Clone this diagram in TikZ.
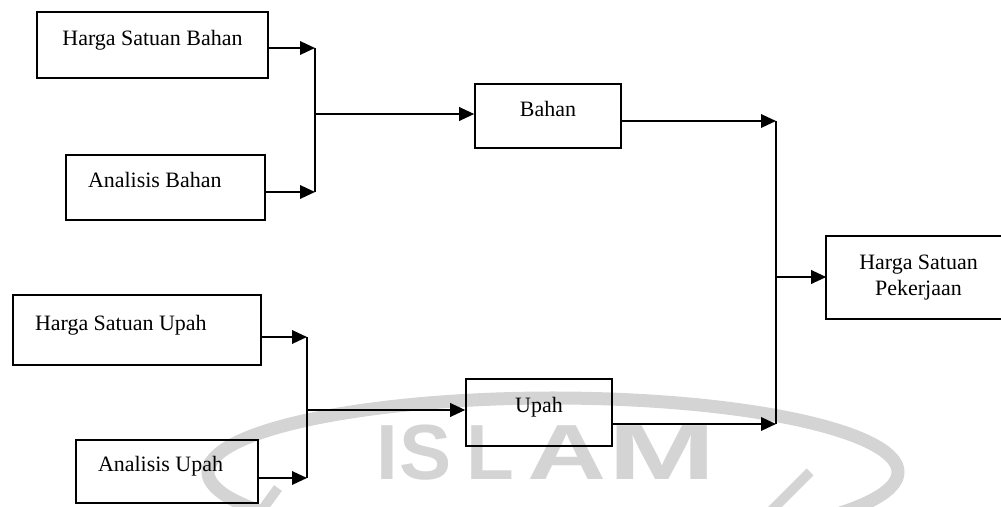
\documentclass[tikz,border=0pt]{standalone}
\usepackage{fontspec}
\usepackage{graphicx}
\setmainfont{Liberation Serif}
\newfontfamily\wmfont{Liberation Sans}
\usetikzlibrary{arrows.meta}
\tikzstyle{box}=[draw, line width=0.9pt, inner sep=0pt, text height=8pt, text depth=8pt, font=\fontsize{12.5}{15}\selectfont]
\tikzstyle{lbox}=[box, align=flush left, inner xsep=0.44cm]
\tikzstyle{wm}=[inner sep=0pt, text=black!17, font=\wmfont\bfseries\fontsize{44.5}{44.5}\selectfont]
\tikzset{arr/.style={line width=1.1pt, -{Triangle[length=0.3cm,width=0.27cm]}}}
\tikzset{bar/.style={line width=1.1pt}}

\begin{document}
\begin{tikzpicture}[x=0.02cm, y=-0.02cm]
    \useasboundingbox (0,0) rectangle (1001,507);

    \draw[black!17, line width=7.4pt] (553,472) ++(145:345 and 74) arc[start angle=145, end angle=395, x radius=345, y radius=74];
    \draw[black!17, line width=5.5pt] (770,512) -- (810,472);
    \draw[black!17, line width=5.5pt] (262,510) -- (278,488);
    \foreach \c/\x/\s in {I/387/1, S/426/1, L/490/1, A/567/1.4, M/662/1.65}
      \node[wm] (wm\c) at (\x,453) {\scalebox{\s}[1]{\c}};

    \node[box, minimum width=4.62cm, minimum height=1.32cm] (hsb) at (152.5,45) {Harga Satuan Bahan};
    \node[lbox, text width=3.1cm, minimum height=1.30cm] (ab) at (165.5,187.5) {Analisis Bahan};
    \node[box, minimum width=2.92cm, minimum height=1.28cm] (bahan) at (548,116) {Bahan};
    \node[lbox, text width=4.08cm, minimum height=1.40cm] (hsu) at (137,330) {Harga Satuan Upah};
    \node[lbox, text width=2.76cm, minimum height=1.26cm] (au) at (167,471.5) {Analisis Upah};
    \node[box, minimum width=2.92cm, minimum height=1.34cm] (upah) at (539,412.5) {Upah};
    \node[box, draw=none, text height={}, text depth={}, align=center, minimum width=3.66cm, minimum height=1.62cm] (hsp) at (918.5,277.5) {Harga Satuan\\Pekerjaan};
    \draw[line width=0.9pt] (hsp.north east) -| (hsp.south west) -- (hsp.south east);

    \coordinate (j1t) at (315,48);
    \coordinate (j1b) at (315,192);
    \coordinate (j1m) at (315,114);
    \coordinate (j2t) at (307,337);
    \coordinate (j2b) at (307,478);
    \coordinate (j2m) at (307,410);
    \coordinate (j3t) at (776,121);
    \coordinate (j3b) at (776,424);
    \coordinate (j3m) at (776,277);

    \draw[arr] (hsb.east |- j1t) -- (j1t);
    \draw[arr] (ab.east |- j1b) -- (j1b);
    \draw[bar] (j1t) -- (j1b);
    \draw[arr] (j1m) -- (j1m -| bahan.west);

    \draw[arr] (hsu.east |- j2t) -- (j2t);
    \draw[arr] (au.east |- j2b) -- (j2b);
    \draw[bar] (j2t) -- (j2b);
    \draw[arr] (j2m) -- (j2m -| upah.west);

    \draw[arr] (bahan.east |- j3t) -- (j3t);
    \draw[arr] (upah.east |- j3b) -- (j3b);
    \draw[bar] (j3t) -- (j3b);
    \draw[arr] (j3m) -- (j3m -| hsp.west);
\end{tikzpicture}
\end{document}
